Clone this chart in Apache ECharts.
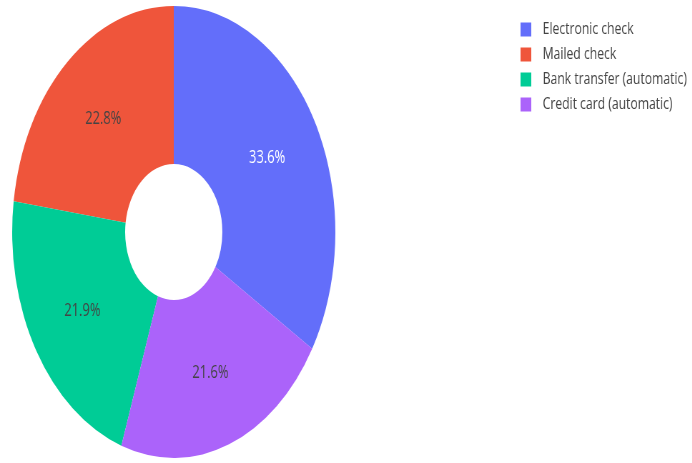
<!DOCTYPE html>
<html>
<head>
<meta charset="utf-8">
<script src="https://cdn.jsdelivr.net/npm/echarts@6/dist/echarts.min.js"></script>
<style>
  html, body { margin: 0; padding: 0; background: #fff; overflow: hidden; }
  #wrap { width: 692px; height: 463px; overflow: hidden; }
  #chart { width: 968px; height: 463px; transform: scaleX(0.715); transform-origin: 0 0; }
</style>
</head>
<body>
<div id="wrap"><div id="chart"></div></div>
<script>
const categories = ['Electronic check', 'Mailed check', 'Bank transfer (automatic)', 'Credit card (automatic)'];
const values = [33.6, 22.8, 21.9, 21.6];

const palette = ['#636efa', '#ef553b', '#00cc96', '#ab63fa'];
const labelColors = ['#ffffff', '#444444', '#444444', '#444444'];

const total = values.reduce((a, b) => a + b, 0);
const firstShare = values[0] / total;

const chart = echarts.init(document.getElementById('chart'), null, { renderer: 'canvas' });
chart.setOption({
  animation: false,
  backgroundColor: '#ffffff',
  color: palette,
  legend: {
    orient: 'vertical',
    left: 723,
    top: 16,
    itemWidth: 15,
    itemHeight: 14,
    itemGap: 8,
    icon: 'rect',
    textStyle: { fontFamily: 'Open Sans', fontSize: 17, color: '#444', padding: [0, 0, 0, 11] },
    data: categories
  },
  series: [{
    type: 'pie',
    center: [243, 232],
    radius: [68, 226],
    startAngle: 90 - firstShare * 360,
    clockwise: false,
    avoidLabelOverlap: false,
    label: {
      show: true,
      position: 'inside',
      formatter: p => (p.value / total * 100).toFixed(1) + '%',
      fontFamily: 'Open Sans',
      fontSize: 18
    },
    labelLine: { show: false },
    emphasis: { disabled: true },
    data: categories.map((c, i) => ({
      name: c,
      value: values[i],
      label: { color: labelColors[i] }
    }))
  }]
});
</script>
</body>
</html>
